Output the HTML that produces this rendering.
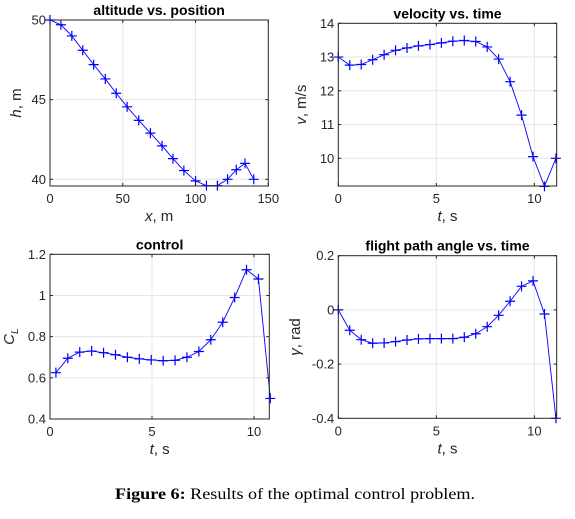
<!DOCTYPE html>
<html><head><meta charset="utf-8">
<style>
body{margin:0;background:#fff;width:575px;height:514px;overflow:hidden}
svg text{font-family:"Liberation Sans",sans-serif}
</style></head>
<body>
<svg id="fig" width="575" height="514" viewBox="0 0 575 514" xmlns="http://www.w3.org/2000/svg">
<text x="115" y="499" textLength="360" lengthAdjust="spacingAndGlyphs" font-size="16" style="font-family:'Liberation Serif',serif" fill="#000"><tspan font-weight="bold">Figure 6:</tspan> Results of the optimal control problem.</text>
</svg>
<script>
// altitude vs position
const altX = [0,7.5,15,22.5,30,38,45.5,53,61,69,77,84.5,92,100,107.5,115,122,128,134,140];
const altH = [50,49.7,49.0,48.1,47.2,46.3,45.4,44.55,43.7,42.9,42.1,41.3,40.55,39.9,39.6,39.6,40.0,40.6,41.0,40.0];
// state time grid (20 nodes)
const stateT = [0,0.584,1.168,1.753,2.337,2.921,3.505,4.089,4.674,5.258,5.842,6.426,7.011,7.595,8.179,8.763,9.347,9.932,10.516,11.1];
const velV = [13,12.76,12.78,12.92,13.07,13.2,13.27,13.33,13.37,13.42,13.47,13.49,13.46,13.30,12.94,12.27,11.28,10.05,9.17,10.0];
const gammaV = [0,-0.075,-0.11,-0.123,-0.122,-0.117,-0.111,-0.107,-0.106,-0.106,-0.106,-0.101,-0.088,-0.062,-0.02,0.032,0.087,0.107,-0.015,-0.40];
// control time grid (19 nodes)
const ctrlT = [0.29,0.874,1.458,2.042,2.626,3.21,3.794,4.378,4.962,5.546,6.13,6.714,7.298,7.882,8.466,9.05,9.634,10.218,10.8];
const ctrlCL = [0.625,0.695,0.725,0.73,0.722,0.712,0.70,0.692,0.687,0.683,0.685,0.70,0.728,0.785,0.87,0.99,1.125,1.08,0.5];
// ticks
const altXTicks = [0,50,100,150];
const altYTicks = [40,45,50];
const tTicks = [0,5,10];
const velYTicks = [10,11,12,13,14];
const clYTicks = [0.4,0.6,0.8,1,1.2];
const clYLabels = ['0.4','0.6','0.8','1','1.2'];
const gYTicks = [-0.4,-0.2,0,0.2];
const gYLabels = ['-0.4','-0.2','0','0.2'];

const NS='http://www.w3.org/2000/svg';
const svg=document.getElementById('fig');
function mk(tag,attrs,parent){const e=document.createElementNS(NS,tag);for(const k in attrs)e.setAttribute(k,attrs[k]);(parent||svg).appendChild(e);return e;}

function plot(o){
  const g=mk('g',{});
  
  
  const sx=v=>o.L+(v-o.xmin)/(o.xmax-o.xmin)*(o.R-o.L);
  const sy=v=>o.B-(v-o.ymin)/(o.ymax-o.ymin)*(o.B-o.T);
  o.xt.forEach(v=>{const x=sx(v);if(x>o.L+0.5&&x<o.R-0.5){const l=mk('line',{x1:x,x2:x,y1:o.T,y2:o.B,stroke:'#e6e6e6','stroke-width':1},g);
    
    }});
  o.yt.forEach(v=>{const y=sy(v);if(y>o.T+0.5&&y<o.B-0.5){const l=mk('line',{x1:o.L,x2:o.R,y1:y,y2:y,stroke:'#e6e6e6','stroke-width':1},g);
    
    }});
  const pts=o.xs.map((x,i)=>sx(x).toFixed(2)+','+sy(o.ys[i]).toFixed(2)).join(' ');
  const pl=mk('polyline',{points:pts,fill:'none',stroke:'#0000ff','stroke-width':0.9},g);
  
  
  o.xs.forEach((x,i)=>{const px=sx(x),py=sy(o.ys[i]);
    const m=mk('path',{d:`M${px-5},${py}H${px+5}M${px},${py-5}V${py+5}`,stroke:'#0000ff','stroke-width':1.2},g);
    
    });
  const bx=mk('rect',{x:o.L,y:o.T,width:o.R-o.L,height:o.B-o.T,fill:'none',stroke:'#262626','stroke-width':1},g);
  
  
  o.xt.forEach((v,i)=>{const x=sx(v);
    mk('line',{x1:x,x2:x,y1:o.B,y2:o.B-3,stroke:'#262626'},g);
    mk('line',{x1:x,x2:x,y1:o.T,y2:o.T+3,stroke:'#262626'},g);
    const t=mk('text',{x:x,y:o.B+17,'text-anchor':'middle','font-size':13,fill:'#262626'},g);t.textContent=o.xl?o.xl[i]:String(v);
    
    });
  o.yt.forEach((v,i)=>{const y=sy(v);
    mk('line',{x1:o.L,x2:o.L+3,y1:y,y2:y,stroke:'#262626'},g);
    mk('line',{x1:o.R,x2:o.R-3,y1:y,y2:y,stroke:'#262626'},g);
    const t=mk('text',{x:o.L-4,y:y+4.5,'text-anchor':'end','font-size':13,fill:'#262626'},g);t.textContent=o.yl?o.yl[i]:String(v);
    
    });
  const ti=mk('text',{x:(o.L+o.R)/2,y:o.T-5,'text-anchor':'middle','font-size':14,'font-weight':'bold',fill:'#000'},g);ti.textContent=o.title;
  
  
  const xl=mk('text',{x:(o.L+o.R)/2,y:o.B+35,'text-anchor':'middle','font-size':15,fill:'#262626'},g);
  xl.innerHTML=o.xlab;
  
  
  const yl=mk('text',{x:0,y:0,'text-anchor':'middle','font-size':15,fill:'#262626',transform:`translate(${o.ylx},${(o.T+o.B)/2}) rotate(-90)`},g);
  yl.innerHTML=o.ylab;
  
  
}
plot({name:'altitude-chart',L:50,R:268.3,T:20,B:186,xmin:0,xmax:150,ymin:39.58,ymax:50,xs:altX,ys:altH,xt:altXTicks,yt:altYTicks,title:'altitude vs. position',xlab:'<tspan font-style="italic">x</tspan>, m',ylab:'<tspan font-style="italic">h</tspan>, m',ylx:21});
plot({name:'velocity-chart',L:338.3,R:556.7,T:23.3,B:186,xmin:0,xmax:11.14,ymin:9.18,ymax:14,xs:stateT,ys:velV,xt:tTicks,yt:velYTicks,title:'velocity vs. time',xlab:'<tspan font-style="italic">t</tspan>, s',ylab:'<tspan font-style="italic">v</tspan>, m/s',ylx:306});
plot({name:'control-chart',L:50,R:269.3,T:254.3,B:419,xmin:0,xmax:10.75,ymin:0.4,ymax:1.2,xs:ctrlT,ys:ctrlCL,xt:tTicks,yt:clYTicks,yl:clYLabels,title:'control',xlab:'<tspan font-style="italic">t</tspan>, s',ylab:'<tspan font-style="italic">C</tspan><tspan font-style="italic" font-size="10" dy="4">L</tspan>',ylx:14});
plot({name:'flight-path-angle-chart',L:338.3,R:556.7,T:255.7,B:418.3,xmin:0,xmax:11.14,ymin:-0.4,ymax:0.2,xs:stateT,ys:gammaV,xt:tTicks,yt:gYTicks,yl:gYLabels,title:'flight path angle vs. time',xlab:'<tspan font-style="italic">t</tspan>, s',ylab:'<tspan font-style="italic">γ</tspan>, rad',ylx:300});
</script>
</body></html>
